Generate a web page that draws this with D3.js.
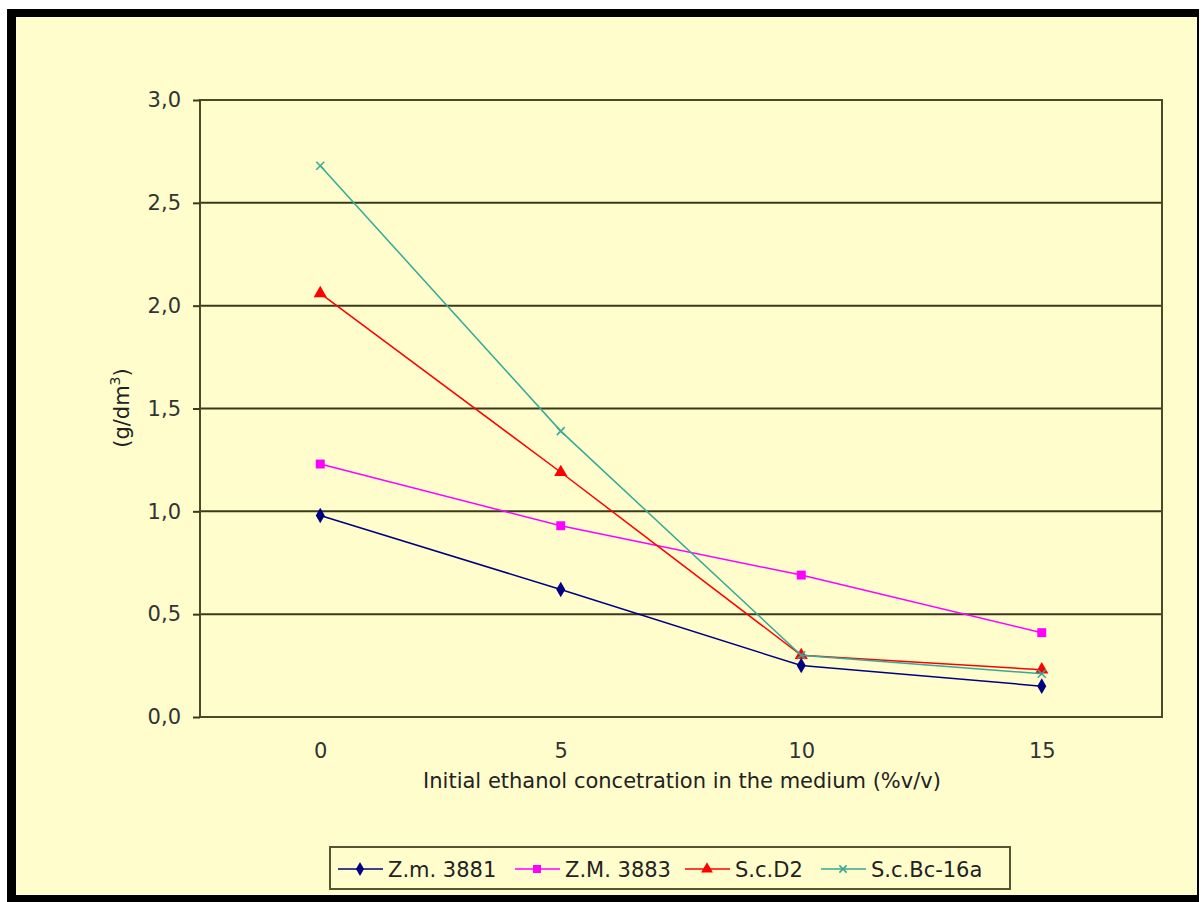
<!DOCTYPE html>
<html>
<head>
<meta charset="utf-8">
<script src="https://cdn.jsdelivr.net/npm/d3@7"></script>
<style>
  body { margin: 0; background: #fff; }
  text { font-family: "DejaVu Sans", sans-serif; }
</style>
</head>
<body>
<div id="chart"></div>
<script>
const categories = [0, 5, 10, 15];
const zm3881 = [0.98, 0.62, 0.25, 0.15];
const zm3883 = [1.23, 0.93, 0.69, 0.41];
const scD2 = [2.06, 1.19, 0.30, 0.23];
const scBc16a = [2.68, 1.39, 0.30, 0.21];
const yTicks = [0, 0.5, 1.0, 1.5, 2.0, 2.5, 3.0];

const series = [
  { name: "Z.m. 3881", values: zm3881, color: "#000080", symbol: d3.symbolDiamond },
  { name: "Z.M. 3883", values: zm3883, color: "#ff00ff", symbol: d3.symbolSquare },
  { name: "S.c.D2", values: scD2, color: "#ff0000", symbol: d3.symbolTriangle },
  { name: "S.c.Bc-16a", values: scBc16a, color: "#33aa99", symbol: "x" }
];

const width = 1201, height = 902;
const plot = { left: 200, top: 100, right: 1162, bottom: 717 };
const fs = 21;

const svg = d3.select("#chart").append("svg")
  .attr("width", width)
  .attr("height", height);

// background + frame
svg.append("rect").attr("x", 0).attr("y", 0).attr("width", width).attr("height", height).attr("fill", "#fff");
svg.append("rect").attr("x", 7).attr("y", 9).attr("width", 1192).attr("height", 893).attr("fill", "#000");
svg.append("rect").attr("x", 16).attr("y", 17).attr("width", 1181).attr("height", 878).attr("fill", "#fffdcc");

const x = d3.scalePoint()
  .domain(categories)
  .range([plot.left, plot.right])
  .padding(0.5);

const y = d3.scaleLinear()
  .domain([0, 3])
  .range([plot.bottom, plot.top]);

// gridlines
svg.append("g")
  .selectAll("line")
  .data(yTicks)
  .join("line")
  .attr("x1", plot.left)
  .attr("x2", plot.right)
  .attr("y1", d => y(d))
  .attr("y2", d => y(d))
  .attr("stroke", "#3a3a1a")
  .attr("stroke-width", 2);

// plot border
svg.append("rect")
  .attr("x", plot.left).attr("y", plot.top)
  .attr("width", plot.right - plot.left)
  .attr("height", plot.bottom - plot.top)
  .attr("fill", "none")
  .attr("stroke", "#4a4a2a")
  .attr("stroke-width", 2);

// y axis
const yAxis = svg.append("g")
  .attr("transform", `translate(${plot.left},0)`)
  .call(d3.axisLeft(y).tickValues(yTicks).tickSize(7).tickPadding(12)
    .tickFormat(d => d3.format(".1f")(d).replace(".", ",")));
yAxis.select(".domain").remove();
yAxis.selectAll("line").attr("stroke", "#3a3a1a").attr("stroke-width", 2);
yAxis.selectAll("text").attr("font-size", fs).attr("fill", "#333").style("font-family", "DejaVu Sans, sans-serif");

// x axis (labels only)
const xAxis = svg.append("g")
  .attr("transform", `translate(0,${plot.bottom})`)
  .call(d3.axisBottom(x).tickSize(0).tickPadding(26));
xAxis.select(".domain").remove();
xAxis.selectAll("text").attr("font-size", fs).attr("fill", "#333").style("font-family", "DejaVu Sans, sans-serif");

// axis titles
svg.append("text")
  .attr("x", 682).attr("y", 788)
  .attr("text-anchor", "middle")
  .attr("font-size", fs)
  .attr("fill", "#222")
  .text("Initial ethanol concetration in the medium (%v/v)");

const yl = svg.append("text")
  .attr("transform", "translate(129,408) rotate(-90)")
  .attr("text-anchor", "middle")
  .attr("font-size", fs)
  .attr("fill", "#222");
yl.append("tspan").text("(g/dm");
yl.append("tspan").attr("font-size", 14).attr("dy", -9).text("3");
yl.append("tspan").attr("dy", 9).text(")");

// lines and markers
const line = d3.line()
  .x((d, i) => x(categories[i]))
  .y(d => y(d));

function drawMarker(g, s, cx, cy, scale) {
  if (s.symbol === "x") {
    const r = 4 * scale;
    g.append("path")
      .attr("d", `M${cx - r},${cy - r}L${cx + r},${cy + r}M${cx - r},${cy + r}L${cx + r},${cy - r}`)
      .attr("stroke", s.color).attr("stroke-width", 1.5).attr("fill", "none");
  } else {
    const size = s.symbol === d3.symbolDiamond ? 70 : s.symbol === d3.symbolSquare ? 80 : 75;
    g.append("path")
      .attr("d", d3.symbol().type(s.symbol).size(size * scale * scale)())
      .attr("transform", `translate(${cx},${cy})`)
      .attr("fill", s.color);
  }
}

series.forEach(s => {
  svg.append("path")
    .datum(s.values)
    .attr("d", line)
    .attr("fill", "none")
    .attr("stroke", s.color)
    .attr("stroke-width", 1.5);
  const g = svg.append("g");
  s.values.forEach((v, i) => drawMarker(g, s, x(categories[i]), y(v), 1));
});

// legend
svg.append("rect")
  .attr("x", 330).attr("y", 847)
  .attr("width", 680).attr("height", 42)
  .attr("fill", "#fffdcc")
  .attr("stroke", "#555533")
  .attr("stroke-width", 2);

const legendX = [338, 515, 685, 821];
series.forEach((s, i) => {
  const g = svg.append("g");
  const lx = legendX[i], ly = 869;
  g.append("line")
    .attr("x1", lx).attr("x2", lx + 45)
    .attr("y1", ly).attr("y2", ly)
    .attr("stroke", s.color).attr("stroke-width", 1.5);
  drawMarker(g, s, lx + 22, ly, 0.9);
  g.append("text")
    .attr("x", lx + 50).attr("y", ly + 8)
    .attr("font-size", fs)
    .attr("fill", "#222")
    .text(s.name);
});
</script>
</body>
</html>
